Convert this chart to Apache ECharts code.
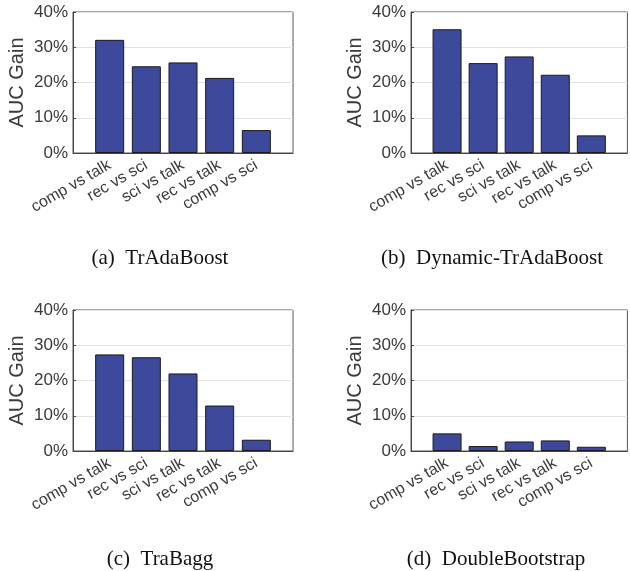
<!DOCTYPE html>
<html>
<head>
<meta charset="utf-8">
<script src="https://cdn.jsdelivr.net/npm/echarts@6/dist/echarts.min.js"></script>
<style>
  html, body { margin: 0; padding: 0; background: #fff; }
  #main { width: 630px; height: 571px; }
</style>
</head>
<body>
<div id="main"></div>
<script>
// categories shared by all four panels
const categories = ['comp vs talk', 'rec vs sci', 'sci vs talk', 'rec vs talk', 'comp vs sci']
const yTicks = [0, 10, 20, 30, 40]

// AUC gain in %
const trAdaBoost = [32.1, 24.6, 25.7, 21.3, 6.5]
const dynamicTrAdaBoost = [35.1, 25.5, 27.4, 22.2, 5.0]
const traBagg = [27.4, 26.6, 22.0, 12.9, 3.2]
const doubleBootstrap = [5.0, 1.4, 2.7, 3.0, 1.2]

const panels = [
  { caption: '(a)  TrAdaBoost', data: trAdaBoost },
  { caption: '(b)  Dynamic-TrAdaBoost', data: dynamicTrAdaBoost },
  { caption: '(c)  TraBagg', data: traBagg },
  { caption: '(d)  DoubleBootstrap', data: doubleBootstrap }
]

// plot box for each panel
const boxes = [
  { left: 73, top: 12, width: 220, height: 141, capX: 160, capY: 258 },
  { left: 411, top: 12, width: 218, height: 141, capX: 492, capY: 258 },
  { left: 73, top: 310, width: 220, height: 141, capX: 160, capY: 559 },
  { left: 411, top: 310, width: 218, height: 141, capX: 496, capY: 559 }
]

const textColor = '#3a3a3a'
const barColor = '#3d4a9c'

// matlab-like x limits: bars at 1..5 inside [0, 6]
const paddedCats = [''].concat(categories, [''])

const option = {
  animation: false,
  grid: boxes.map(b => ({
    left: b.left, top: b.top, width: b.width, height: b.height,
    show: true, borderColor: '#555', borderWidth: 1, backgroundColor: 'transparent'
  })),
  xAxis: boxes.map((b, i) => ({
    type: 'category',
    gridIndex: i,
    data: paddedCats,
    boundaryGap: false,
    axisLine: { lineStyle: { color: '#444' } },
    axisTick: { show: false },
    axisLabel: {
      interval: 0,
      rotate: 30,
      margin: 11,
      color: textColor,
      fontFamily: 'Liberation Sans, Arial, sans-serif',
      fontSize: 16
    },
    splitLine: { show: false }
  })),
  yAxis: boxes.map((b, i) => ({
    type: 'value',
    gridIndex: i,
    min: yTicks[0],
    max: yTicks[yTicks.length - 1],
    interval: 10,
    name: 'AUC Gain',
    nameLocation: 'middle',
    nameGap: 46,
    nameTextStyle: {
      color: textColor,
      fontFamily: 'Liberation Sans, Arial, sans-serif',
      fontSize: 20
    },
    axisLine: { show: true, lineStyle: { color: '#444' } },
    axisTick: { show: true, inside: true, length: 3, lineStyle: { color: '#444' } },
    axisLabel: {
      formatter: '{value}%',
      margin: 5,
      color: textColor,
      fontFamily: 'Liberation Sans, Arial, sans-serif',
      fontSize: 17
    },
    splitLine: { show: true, lineStyle: { color: '#e2e2e2' } }
  })),
  series: panels.map((p, i) => ({
    type: 'bar',
    xAxisIndex: i,
    yAxisIndex: i,
    barWidth: 29,
    data: ['-'].concat(p.data, ['-']),
    itemStyle: { color: barColor, borderColor: '#1a1a1a', borderWidth: 1 }
  })),
  graphic: panels.map((p, i) => ({
    type: 'text',
    x: boxes[i].capX,
    y: boxes[i].capY,
    style: {
      text: p.caption,
      align: 'center',
      verticalAlign: 'middle',
      fill: '#111',
      font: '21px "Liberation Serif", "Times New Roman", serif'
    }
  }))
}

const myChart = echarts.init(document.getElementById('main'))
myChart.setOption(option)
</script>
</body>
</html>
